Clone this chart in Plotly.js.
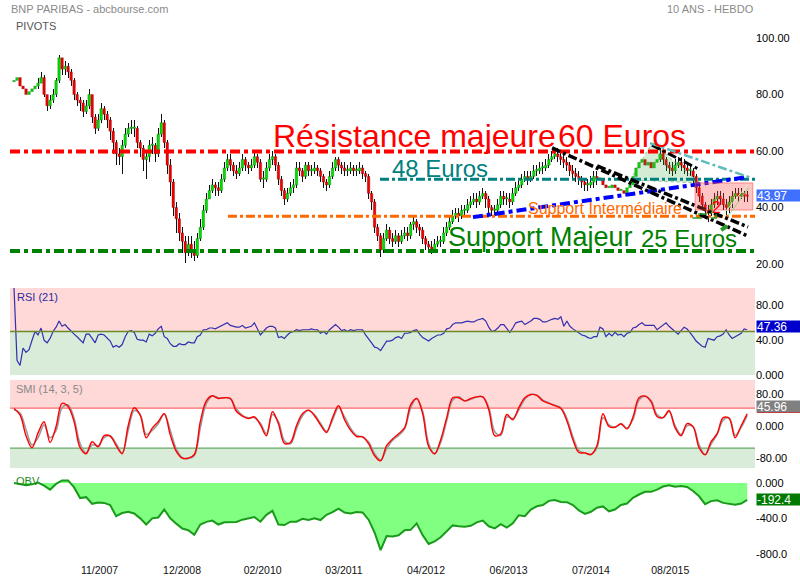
<!DOCTYPE html>
<html><head><meta charset="utf-8">
<script src="https://cdn.plot.ly/plotly-3.0.1.min.js"></script>
<style>body{margin:0;background:#fff}#chart{width:800px;height:580px}</style>
</head><body><div id="chart"></div>
<script>
// ---------------- DATA ----------------
const firstDate = '2006-09-11';
const priceStepDays = 15;
const indStepDays = 30;
const firstOpen = 84.5;
const closes = [
85,86,83,82,80,81,82,83,84,86,
80,76,78,80,85,93,89,90,88,85,
80,78,77,74,76,80,72,68,71,75,
73,71,67,63,59,58,62,66,68,68,
68,63,61,57,58,62,62,59,66,70,
63,55,49,40,36,31,28,24,27,25,
23,29,33,39,43,46,48,47,46,50,
54,57,55,53,52,54,57,55,54,55,
58,56,50,50,54,57,58,55,50,46,
43,45,47,48,54,53,51,55,53,53,
54,53,51,49,48,51,54,57,55,54,
53,53,54,53,53,54,52,51,45,42,
33,30,25,29,32,29,28,30,28,30,
31,30,34,35,33,32,29,27,26,25,
27,28,28,31,33,35,37,38,37,39,
39,41,42,43,42,44,45,43,40,39,
39,41,44,43,43,42,45,47,48,50,
51,50,51,53,53,54,54,55,57,58,
59,58,57,56,55,53,52,51,50,49,
48,48,49,51,50,50,48,47,47,48,
47,46,46,45,47,48,51,54,56,57,
55,56,54,56,57,59,57,55,54,53,
55,56,55,54,53,53,51,47,44,41,
39,38,41,43,44,43,41,40,42,44,
45,44,45,44,43.97
];
const highs = [
87,88,87,84,83,83,84,85,86,88,
87,80,80,82,86,94,93,92,91,89,
86,81,79,78,78,82,80,73,73,77,
76,74,72,68,64,61,64,68,70,71,
71,69,64,62,60,64,65,63,68,73,
71,64,57,50,42,38,33,30,30,30,
28,31,36,41,45,48,50,49,49,52,
56,59,59,56,55,56,59,58,56,57,
60,59,57,53,56,59,60,59,56,51,
47,47,49,50,56,56,54,56,56,55,
56,55,54,52,50,53,56,58,58,56,
56,55,56,55,55,56,55,53,52,46,
43,34,31,31,34,33,31,32,31,32,
33,33,35,37,36,34,33,30,28,28,
29,30,30,33,35,37,39,40,40,41,
41,43,44,45,45,46,47,46,44,41,
41,43,46,46,45,45,47,49,50,52,
53,53,53,55,55,56,56,57,59,60,
61,61,60,59,58,56,55,54,53,51,
50,50,51,53,53,52,51,49,49,50,
50,48,48,48,48,50,52,56,58,59,
58,58,57,58,59,61,60,58,56,56,
57,58,58,57,56,55,54,52,48,45,
42,41,43,45,46,46,45,43,44,46,
47,47,47,46,46
];
const lows = [
83,84,82,79,78,79,80,81,82,84,
79,74,75,77,79,84,87,87,86,83,
78,76,74,72,73,75,70,66,67,70,
71,68,64,59,55,55,52,61,65,66,
65,61,58,53,50,56,59,56,58,65,
61,52,44,37,31,28,24,20.3,23,22,
21,22,28,32,38,43,45,44,44,45,
49,53,53,51,50,51,53,53,52,53,
54,54,49,47,49,53,55,53,48,44,
41,42,44,45,47,51,49,50,51,51,
52,51,49,47,46,47,50,53,53,52,
51,51,52,51,51,52,50,49,43,39,
31,28,22.5,24,28,27,26,27,26,27,
29,28,29,32,31,30,27,25,24,23.5,
24,26,26,27,30,32,34,36,35,36,
37,38,40,41,40,41,43,40,38,37,
37,38,40,41,41,40,41,44,46,47,
49,48,49,50,51,52,52,53,54,56,
57,56,55,54,53,51,50,49,48,47,
46,46,47,47,48,48,46,45,45,46,
45,44,44,43,44,45,47,50,53,55,
53,53,52,53,55,56,55,53,52,51,
52,54,53,52,51,51,48,45,42,39,
36,35,37,40,41,41,39,37,38,40,
43,42,43,42,42
];
const rsi = [
100,17,11,31,26,29,40,50,46,54,
40,37,42,50,55,62,56,58,54,50,
47,44,41,37,47,47,42,37,46,47,
46,43,39,32,34,32,35,44,50,51,
49,41,40,40,38,47,45,48,53,56,
44,42,36,33,33,36,35,35,38,37,
37,44,46,52,52,54,54,53,55,57,
59,60,57,56,55,55,57,54,55,56,
60,52,46,50,54,56,56,54,43,44,
42,46,49,50,52,51,52,52,52,53,
52,52,48,50,47,52,55,58,55,51,
52,50,52,51,52,52,52,46,42,37,
32,31,28,33,39,39,40,43,44,42,
48,48,49,51,52,47,43,41,39,42,
44,46,46,48,53,54,58,60,60,60,
61,62,61,61,63,64,65,62,55,50,
51,54,58,58,54,49,54,60,61,62,
58,60,62,65,65,64,61,61,63,64,
65,64,67,56,62,56,53,51,48,46,
45,43,42,44,44,55,53,44,48,45,
49,46,47,44,48,49,54,55,58,60,
57,57,57,57,52,55,58,60,56,53,
49,47,51,55,53,49,44,39,36,33,
32,42,41,40,44,45,47,52,46,42,
44,46,48,53,52
];
const smi = [
43,27,-25,-55,-18,10,-42,-2,56,48,
10,-55,-70,-40,-53,-25,-26,-50,-70,0,
45,26,-30,-6,10,30,-23,-64,-81,-81,
-72,10,62,75,68,70,68,36,24,18,
22,2,-25,35,5,-44,-42,0,30,39,
25,2,-17,20,50,15,-11,-27,-28,-45,
-75,-88,-50,-33,-20,-5,52,68,30,-52,
-70,-35,20,70,70,62,68,72,72,40,
-25,-20,28,15,45,70,78,76,62,56,
50,43,12,-35,-67,-68,-72,-50,30,-2,
-4,5,-8,22,70,74,60,23,20,38,
-5,-25,5,-3,-55,-73,-40,-20,20,18,
-30,0,30
];
const smiSignal = [
40,32,-10,-48,-30,2,-30,-12,45,52,
18,-45,-68,-48,-50,-30,-25,-45,-68,-12,
38,28,-22,-12,5,30,-12,-58,-80,-82,
-75,-5,55,74,70,70,68,42,26,20,
20,6,-20,28,10,-38,-45,-8,25,38,
28,6,-14,14,45,22,-6,-24,-28,-40,
-70,-86,-58,-36,-24,-8,44,68,36,-45,
-70,-42,12,64,72,62,66,72,72,46,
-15,-24,22,18,40,66,78,76,64,57,
51,45,18,-28,-62,-68,-72,-55,20,2,
-4,4,-6,16,64,74,63,28,20,35,
0,-22,0,-2,-48,-72,-46,-22,14,20,
-24,-4,26
];
const obv = [
0,-15,-25,-15,5,-30,-75,-10,30,30,
-50,-170,-160,-235,-220,-225,-250,-375,-340,-325,
-345,-400,-470,-400,-390,-300,-400,-460,-515,-535,
-585,-470,-440,-425,-470,-445,-440,-440,-415,-400,
-385,-438,-360,-315,-470,-476,-438,-438,-405,-419,
-400,-419,-360,-330,-290,-335,-345,-328,-333,-415,
-560,-759,-600,-605,-592,-535,-530,-457,-590,-690,
-660,-615,-550,-480,-490,-494,-485,-445,-425,-490,
-513,-465,-505,-457,-365,-375,-300,-263,-250,-202,
-192,-215,-217,-250,-310,-350,-325,-280,-265,-320,
-300,-249,-232,-168,-130,-100,-100,-75,-40,-25,
-43,-34,-45,-90,-150,-240,-205,-195,-225,-232,
-245,-232,-190
];
const lastPrice = '43.97', lastRsi = '47.36', lastSmi = '45.96', lastObv = '-192.4';
const dateTickVals = ['2007-11-12','2008-12-28','2010-02-03','2011-03-16','2012-04-29','2013-06-15','2014-07-31','2015-08-31'];
const dateTickText = ['11/2007','12/2008','02/2010','03/2011','04/2012','06/2013','07/2014','08/2015'];
const priceTicks = [20,40,60,80,100];
const rsiTicks = [0,40,80];
const smiTicks = [-80,0,80];
const obvTicks = [-800,-400,0];
// pivot levels (price)
const resistanceLevel = 59.8, supportLevel = 24.6, intermLevel = 36.9, level48 = 50;
const rsiMid = 50, smiUpper = 44, smiLower = -56;

// ---------------- BUILD ----------------
function grid(n, step){
  const t0 = Date.parse(firstDate+'T00:00:00Z'); const out=[];
  for(let i=0;i<n;i++) out.push(new Date(t0+i*step*86400000).toISOString().slice(0,10));
  return out;
}
const xp = grid(closes.length, priceStepDays);
const xi = grid(smi.length, indStepDays);
const opens = closes.map((c,i)=> i===0 ? firstOpen : closes[i-1]);
const bodyBase = closes.map((c,i)=> Math.min(c, opens[i]));
const bodyLen = closes.map((c,i)=> Math.max(Math.abs(c-opens[i]), 0.5));
const bodyColor = closes.map((c,i)=> c>=opens[i] ? '#00dd00' : '#ee0000');
const bodyEdge = closes.map((c,i)=> c>=opens[i] ? '#0a5a0a' : '#6a0000');
const wickLen = highs.map((h,i)=> h - lows[i]);

const FONT = 'Liberation Sans, Arial, sans-serif';
const W=800,H=580,L=10,R=755;
const px = x => (x-L)/(R-L);
const py = y => 1 - y/H;
const DAY = 86400000;

const traces = [
 {type:'bar', x:xp, base:lows, y:wickLen, width:DAY*4.5, xaxis:'x', yaxis:'y',
  marker:{color:'#111', line:{width:0}}, hoverinfo:'skip'},
 {type:'bar', x:xp, base:bodyBase, y:bodyLen, width:priceStepDays*DAY*0.85, xaxis:'x', yaxis:'y',
  marker:{color:bodyColor, line:{color:bodyEdge, width:0.3}}, hoverinfo:'skip'},
 // 2015 top triangle
 {type:'scatter', x:['2015-02-11','2015-06-01','2016-01-27','2015-02-11'], y:[49.7,62.8,48.7,49.7], mode:'lines', fill:'toself',
  fillcolor:'rgba(60,170,60,0.22)', line:{color:'rgba(90,170,90,0.6)',width:1,dash:'dot'}, xaxis:'x', yaxis:'y', hoverinfo:'skip'},
 {type:'scatter', x:xp, y:rsi, mode:'lines', line:{color:'#3030b0',width:1.2}, xaxis:'x', yaxis:'y2', hoverinfo:'skip'},
 {type:'scatter', x:xi, y:smiSignal, mode:'lines', line:{color:'#9a9a9a',width:1.6,shape:'spline'}, xaxis:'x', yaxis:'y3', hoverinfo:'skip'},
 {type:'scatter', x:xi, y:smi, mode:'lines', line:{color:'#ff0000',width:1.4,shape:'spline'}, xaxis:'x', yaxis:'y3', hoverinfo:'skip'},
 {type:'scatter', x:xi, y:obv, mode:'lines', fill:'tozeroy', fillcolor:'#80ff80', line:{color:'#1a9a1a',width:2}, xaxis:'x', yaxis:'y4', hoverinfo:'skip'}
];

const tickFont = {family:FONT, size:11, color:'#000'};
function yax(domain, range, vals, text){
  return {domain, range, side:'right', anchor:'x', tickvals:vals, ticktext:text, showgrid:false, zeroline:false,
          showline:false, ticks:'', tickfont:tickFont, fixedrange:true};
}
const fmt2 = v => v.toFixed(2);
const layout = {
  width:W, height:H, margin:{l:L, r:W-R, t:0, b:0}, paper_bgcolor:'#fff', plot_bgcolor:'rgba(0,0,0,0)',
  showlegend:false, hovermode:false, bargap:0, barmode:'overlay',
  xaxis:{type:'date', range:['2006-08-22','2016-10-27'], anchor:'y4', tickvals:dateTickVals, ticktext:dateTickText,
         showgrid:false, zeroline:false, showline:false, ticks:'', tickfont:{family:FONT,size:10.5,color:'#111'},
         fixedrange:true},
  yaxis: yax([0.53103,0.95172],[17.17,103.54], priceTicks, priceTicks.map(fmt2)),
  yaxis2: yax([0.35345,0.50345],[0,100], rsiTicks, ['0.000','40.00','80.00']),
  yaxis3: yax([0.19310,0.34483],[-105.75,114.25], smiTicks, ['-80.00','0.000','80.00']),
  yaxis4: yax([0.03017,0.18241],[-900,100], obvTicks, ['-800.0','-400.0','0.000']),
  shapes:[], annotations:[]
};
const S = layout.shapes, A = layout.annotations;
// indicator backgrounds
S.push({type:'rect', layer:'below', xref:'paper', yref:'y2', x0:0, x1:1, y0:rsiMid, y1:100, fillcolor:'#ffd8d8', line:{width:0}});
S.push({type:'rect', layer:'below', xref:'paper', yref:'y2', x0:0, x1:1, y0:0, y1:rsiMid, fillcolor:'#d9ebd9', line:{width:0}});
S.push({type:'line', xref:'paper', yref:'y2', x0:0, x1:1, y0:rsiMid, y1:rsiMid, line:{color:'#6b8a2a',width:1.5}});
S.push({type:'rect', layer:'below', xref:'paper', yref:'y3', x0:0, x1:1, y0:smiUpper, y1:114.25, fillcolor:'#ffd8d8', line:{width:0}});
S.push({type:'rect', layer:'below', xref:'paper', yref:'y3', x0:0, x1:1, y0:-105.75, y1:smiLower, fillcolor:'#d9ebd9', line:{width:0}});
S.push({type:'line', layer:'below', xref:'paper', yref:'y3', x0:0, x1:1, y0:smiUpper, y1:smiUpper, line:{color:'#ff6a6a',width:1.2}});
S.push({type:'line', layer:'below', xref:'paper', yref:'y3', x0:0, x1:1, y0:smiLower, y1:smiLower, line:{color:'#66aa66',width:1.2}});
// pivot lines
const DD4 = '10px,4px,4px,4px', DD3 = '9px,3px,3px,3px';
S.push({type:'line', xref:'paper', yref:'y', x0:0, x1:1, y0:resistanceLevel, y1:resistanceLevel, line:{color:'#ff0000',width:4,dash:DD4}});
S.push({type:'line', xref:'paper', yref:'y', x0:0, x1:1, y0:supportLevel, y1:supportLevel, line:{color:'#008000',width:4,dash:DD4}});
S.push({type:'line', xref:'x', yref:'y', x0:'2009-08-14', x1:'2016-10-27', y0:intermLevel, y1:intermLevel, line:{color:'#ff6a00',width:3,dash:DD3}});
S.push({type:'line', xref:'x', yref:'y', x0:'2011-09-12', x1:'2016-10-27', y0:level48, y1:level48, line:{color:'#008080',width:3,dash:DD3}});
// trend lines
S.push({type:'line', xref:'x', yref:'y', x0:'2012-12-19', y0:36.6, x1:'2016-09-22', y1:50.8, line:{color:'#0000ff',width:4,dash:DD4}});
S.push({type:'line', xref:'x', yref:'y', x0:'2014-01-18', y0:61.1, x1:'2016-09-22', y1:29.9, line:{color:'#000',width:3.5,dash:DD3}});
S.push({type:'line', xref:'x', yref:'y', x0:'2014-08-31', y0:54.7, x1:'2016-09-22', y1:33.1, line:{color:'#000',width:3.5,dash:DD3}});
S.push({type:'line', xref:'x', yref:'y', x0:'2015-06-01', y0:62.1, x1:'2016-01-27', y1:53.3, line:{color:'#000',width:3,dash:DD3}});
S.push({type:'line', xref:'x', yref:'y', x0:'2015-05-22', y0:62.8, x1:'2016-10-11', y1:50.4, line:{color:'#60bcbc',width:2.5,dash:DD3}});
// red box & details
S.push({type:'rect', xref:'x', yref:'y', x0:'2016-01-02', x1:'2016-10-16', y0:39.1, y1:48.7, fillcolor:'rgba(255,60,60,0.30)', line:{color:'rgba(255,80,80,0.6)',width:1}});
S.push({type:'rect', xref:'x', yref:'y', x0:'2015-12-23', x1:'2016-04-16', y0:36.3, y1:37.7, line:{color:'#2a9a2a',width:1.5,dash:'dash'}});
S.push({type:'line', xref:'x', yref:'y', x0:'2016-05-11', y0:32.0, x1:'2016-06-10', y1:33.5, line:{color:'#2a9a2a',width:4}});
S.push({type:'line', xref:'x', yref:'y', x0:'2016-05-20', y0:37.5, x1:'2016-09-20', y1:48, line:{color:'rgba(200,255,200,0.9)',width:1}});
S.push({type:'line', xref:'x', yref:'y', x0:'2016-06-15', y0:37.0, x1:'2016-09-25', y1:47, line:{color:'rgba(120,220,120,0.9)',width:1}});
S.push({type:'line', xref:'paper', yref:'paper', x0:px(757), x1:px(800), y0:py(412), y1:py(412), line:{color:'#ff0000',width:2}});

function txt(text, x, y, size, color, anchor){
  A.push({text, xref:'paper', yref:'paper', x:px(x), y:py(y), xanchor:anchor||'left', yanchor:'middle', showarrow:false,
          borderpad:0, font:{family:FONT, size, color}});
}
txt('BNP PARIBAS - abcbourse.com', 10, 9, 11, '#8a8a8a');
txt('PIVOTS', 15, 25.5, 11, '#555');
txt('10 ANS - HEBDO', 755, 9, 11, '#8a8a8a', 'right');
txt('Résistance majeure', 272, 135.5, 32, '#ff0000');
txt('60 Euros', 557, 135.5, 32, '#ff0000');
txt('48 Euros', 391, 168.5, 24, '#008080');
txt('Support Intermédiaire', 527, 208.7, 16, '#ff6a00');
txt('Support Majeur', 447, 236.5, 27, '#008000');
txt('25 Euros', 640, 238.3, 24, '#008000');
txt('2', 711, 207, 16, '#ff0000');
txt('RSI (21)', 16, 297, 11, '#2a2aa0');
txt('SMI (14, 3, 5)', 15, 389, 11, '#888');
txt('OBV', 15, 481, 11, '#1a8a1a');
function box(text, y, bg){
  A.push({text, xref:'paper', yref:'paper', x:px(756), y:py(y), xanchor:'left', yanchor:'middle', showarrow:false,
          bgcolor:bg, borderpad:0, width:44, height:11, align:'left', font:{family:FONT, size:12, color:'#fff'}});
}
box(lastPrice, 195, '#4070ff');
box(lastRsi, 326, '#0000cc');
box(lastSmi, 406, '#808080');
box(lastObv, 499, '#007a00');

Plotly.newPlot('chart', traces, layout, {staticPlot:true, displayModeBar:false});
</script></body></html>
